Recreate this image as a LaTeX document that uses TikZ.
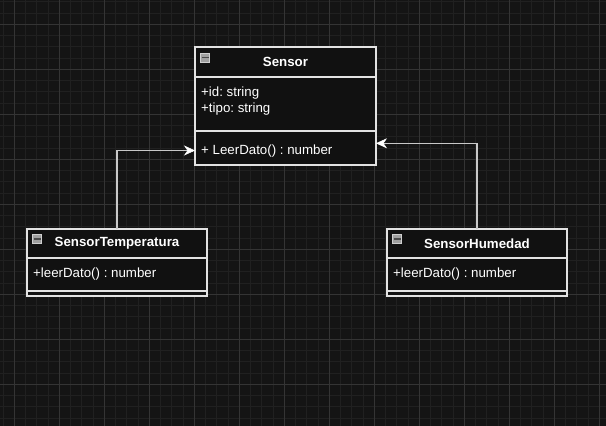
\documentclass[tikz,border=0pt]{standalone}
\usepackage{fontspec}
\setmainfont{Liberation Sans}
\usetikzlibrary{arrows.meta}
\usetikzlibrary{positioning}
\frenchspacing
\definecolor{canvas}{HTML}{141414}
\definecolor{gridminor}{HTML}{202020}
\definecolor{gridmajor}{HTML}{343434}
\definecolor{boxfill}{HTML}{111111}
\definecolor{boxline}{HTML}{E2E2E2}
\definecolor{linkline}{HTML}{C8C8C8}
\definecolor{iconfill}{HTML}{A0A0A0}
\definecolor{iconedge}{HTML}{D0D0D0}
\definecolor{icondark}{HTML}{4A4A4A}
\tikzset{
  minorline/.style={draw=gridminor,line width=1pt},
  majorline/.style={draw=gridmajor,line width=1pt},
  classhead/.style={draw=boxline,fill=boxfill,line width=1.3pt,inner sep=0pt,outer sep=0pt,
    text=white,font=\fontsize{13.3}{15}\selectfont\bfseries},
  classpart/.style={draw=boxline,fill=boxfill,line width=1.3pt,inner sep=0pt,outer sep=0pt},
  member/.style={text=white,inner sep=0pt,anchor=west,font=\fontsize{13.3}{15}\selectfont},
  iconbox/.style={draw=iconedge,fill=iconfill,line width=1pt,minimum size=9pt,inner sep=0pt},
  icondash/.style={draw=icondark,line width=1.6pt},
  link/.style={draw=linkline,line width=1.3pt,
    -{Stealth[length=11pt,width=10pt,inset=3.5pt,line width=0.5pt,fill=white,color=white]}}
}

\begin{document}
\begin{tikzpicture}[x=1pt,y=-1pt]
  \useasboundingbox (0,0) rectangle (606,426);
  \fill[canvas] (0,0) rectangle (606,426);
  % grid
  \foreach \i in {0,...,53} \draw[minorline] ({3.05+11.25*\i},0) -- ({3.05+11.25*\i},426);
  \foreach \j in {0,...,37} \draw[minorline] (0,{1.8+11.25*\j}) -- (606,{1.8+11.25*\j});
  \foreach \i in {0,...,13} \draw[majorline] ({14.3+45*\i},0) -- ({14.3+45*\i},426);
  \foreach \j in {0,...,8} \draw[majorline] (0,{24.3+45*\j}) -- (606,{24.3+45*\j});

  % Sensor
  \node (sensor) at (285.5,62) [classhead,minimum width=181pt,minimum height=30pt] {\raisebox{-1pt}{Sensor}};
  \node (sensorattr) [below=0pt of sensor,classpart,minimum width=181pt,minimum height=54pt] {};
  \node (sensormeth) [below=0pt of sensorattr,classpart,minimum width=181pt,minimum height=34pt] {};
  \node (sensoricon) at (205,57.5) [iconbox] {};
  \draw ([xshift=1.5pt]sensoricon.west) -- ([xshift=-1.5pt]sensoricon.east) [icondash];
  \node (sensorid)   at (201,93.5)  [member] {+id: string};
  \node (sensortipo) at (201,109.5) [member] {+tipo: string};
  \node (sensorleer) at (201,151)   [member] {+ LeerDato() : number};

  % SensorTemperatura
  \node (temp) at (117,243.5) [classhead,minimum width=180pt,minimum height=29pt] {\raisebox{-1pt}{SensorTemperatura}};
  \node (tempmeth) [below=0pt of temp,classpart,minimum width=180pt,minimum height=33pt] {};
  \node (tempend)  [below=0pt of tempmeth,classpart,minimum width=180pt,minimum height=5pt] {};
  \node (tempicon) at (37,239) [iconbox] {};
  \draw ([xshift=1.5pt]tempicon.west) -- ([xshift=-1.5pt]tempicon.east) [icondash];
  \node (templeer) at (33,274.5) [member] {+leerDato() : number};

  % SensorHumedad
  \node (hum) at (477,243.5) [classhead,minimum width=180pt,minimum height=29pt] {\raisebox{-1pt}{SensorHumedad}};
  \node (hummeth) [below=0pt of hum,classpart,minimum width=180pt,minimum height=33pt] {};
  \node (humend)  [below=0pt of hummeth,classpart,minimum width=180pt,minimum height=5pt] {};
  \node (humicon) at (397,239) [iconbox] {};
  \draw ([xshift=1.5pt]humicon.west) -- ([xshift=-1.5pt]humicon.east) [icondash];
  \node (humleer) at (393,274.5) [member] {+leerDato() : number};

  % inheritance
  \draw (temp.north) |- ([yshift=-2.5pt]sensormeth.west) [link];
  \draw (hum.north) |- ([yshift=4.7pt]sensormeth.east) [link];
\end{tikzpicture}
\end{document}
